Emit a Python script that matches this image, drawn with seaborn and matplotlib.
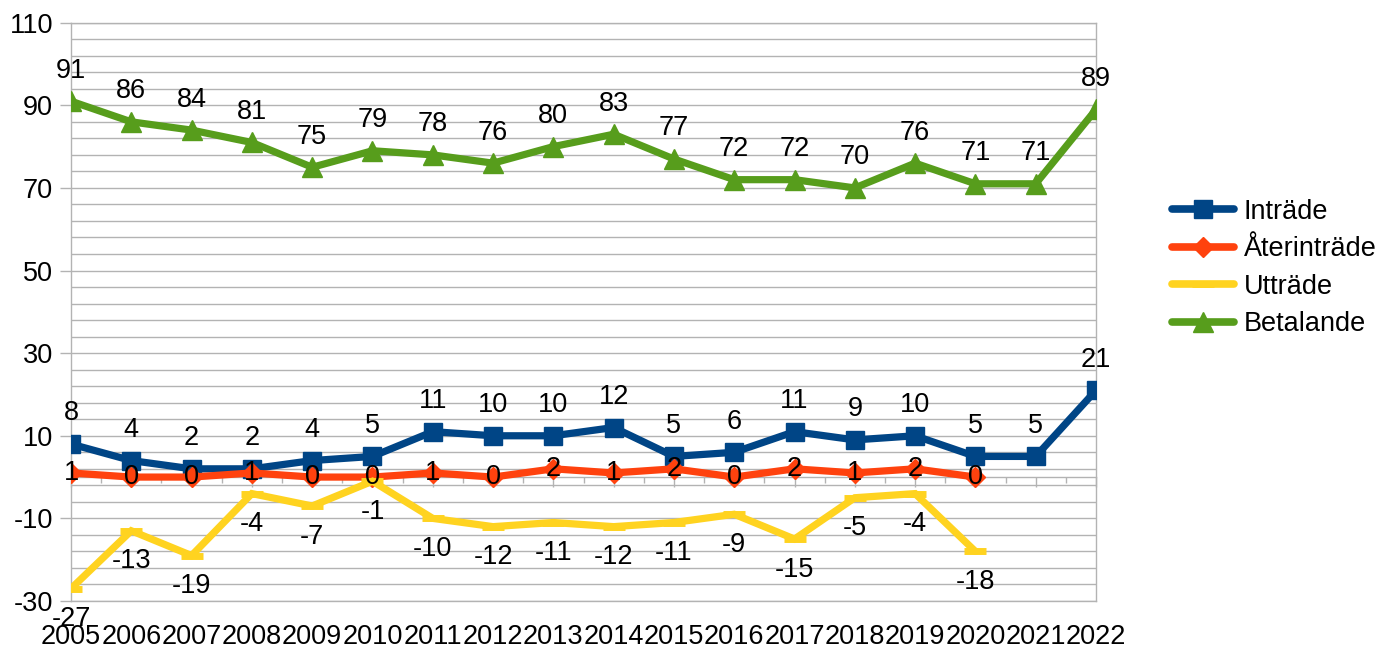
import numpy as np
import pandas as pd
import matplotlib
matplotlib.use("Agg")
import matplotlib.pyplot as plt
import seaborn as sns
from matplotlib.lines import Line2D

years = list(range(2005, 2023))
intrade = [8, 4, 2, 2, 4, 5, 11, 10, 10, 12, 5, 6, 11, 9, 10, 5, 5, 21]
aterintrade = [1, 0, 0, 1, 0, 0, 1, 0, 2, 1, 2, 0, 2, 1, 2, 0]
uttrade = [-27, -13, -19, -4, -7, -1, -10, -12, -11, -12, -11, -9, -15, -5, -4, -18]
betalande = [91, 86, 84, 81, 75, 79, 78, 76, 80, 83, 77, 72, 72, 70, 76, 71, 71, 89]
series_names = ["Inträde", "Återinträde", "Utträde", "Betalande"]
y_ticks = [-30, -10, 10, 30, 50, 70, 90, 110]

sns.set_style("white")
plt.rcParams["font.family"] = ["Liberation Sans", "DejaVu Sans"]
plt.rcParams["axes.unicode_minus"] = False
plt.rcParams["text.color"] = "black"
plt.rcParams["xtick.color"] = "black"
plt.rcParams["ytick.color"] = "black"

FS = 19.5
GRID = "#b3b3b3"
colors = ["#004586", "#ff420e", "#ffd320", "#579d1c"]
markers = ["s", "D", "_", "^"]
msizes = [13, 10, 16, 15]
values = [intrade, aterintrade, uttrade, betalande]
offsets = [22, 0, -22, 22]

fig = plt.figure(figsize=(13.78, 6.48), dpi=100)
ax = fig.add_axes([71 / 1378, 1 - 601 / 648, (1096 - 71) / 1378, (601 - 22.7) / 648])

for name, vals, col, mk, ms, off in zip(series_names, values, colors, markers, msizes, offsets):
    df = pd.DataFrame({"year": years[:len(vals)], "value": vals})
    sns.lineplot(data=df, x="year", y="value", ax=ax, color=col, linewidth=5.2,
                 marker=mk, markersize=ms, markeredgecolor=col,
                 markeredgewidth=(5 if mk == "_" else 1), zorder=3,
                 solid_joinstyle="miter", legend=False)
    for x, v in zip(df["year"], df["value"]):
        ax.annotate(str(v), (x, v), xytext=(0, off), textcoords="offset points",
                    ha="center", va="center", fontsize=FS, color="black",
                    zorder=5, annotation_clip=False)

ax.set_xlim(years[0], years[-1])
ax.set_ylim(-30, 110)
ax.set_yticks(y_ticks)
ax.set_yticks(np.arange(-30, 111, 4), minor=True)
ax.grid(True, axis="y", which="both", color=GRID, linewidth=1)
ax.grid(False, axis="x")
ax.set_xticks(years)
ax.set_xticklabels([str(y) for y in years])
ax.set_xlabel("")
ax.set_ylabel("")
ax.tick_params(axis="x", length=0, pad=16.5, labelsize=FS, labelcolor="black")
ax.tick_params(axis="y", which="major", length=8, color=GRID, width=1, pad=5,
               labelsize=FS, left=True, labelcolor="black")
ax.tick_params(axis="y", which="minor", length=0)
for sp in ax.spines.values():
    sp.set_color(GRID)
    sp.set_linewidth(1)

# zero axis line with ticks
sec = ax.secondary_xaxis(0, transform=ax.transData)
sec.set_xticks(years)
sec.set_xticklabels([""] * len(years))
sec.set_xticks([y + 0.5 for y in years[:-1]], minor=True)
sec.tick_params(which="major", length=7, color=GRID, width=1, direction="out")
sec.tick_params(which="minor", length=4, color=GRID, width=1, direction="out")
for sp in sec.spines.values():
    sp.set_color(GRID)
    sp.set_linewidth(1)

handles = [Line2D([], [], color=c, linewidth=5.5, marker=m, markersize=s,
                  markeredgecolor=c, markeredgewidth=(5 if m == "_" else 1))
           for c, m, s in zip(colors, markers, msizes)]
fig.legend(handles, series_names, loc="center left", bbox_to_anchor=(1172 / 1378, 1 - 268 / 648),
           frameon=False, fontsize=FS, handlelength=2.3, handletextpad=0.35,
           labelspacing=0.43, borderaxespad=0, borderpad=0)

fig.savefig("out.png", dpi=100)
